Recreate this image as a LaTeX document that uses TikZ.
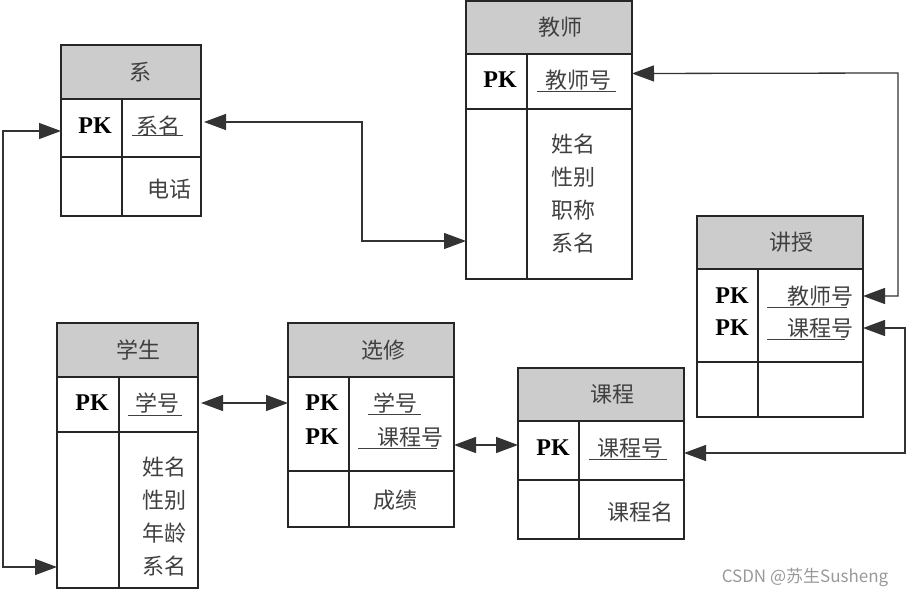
\documentclass[tikz,border=0pt]{standalone}
\usepackage{fontspec}
\setmainfont{Liberation Serif}
\newfontfamily\cjk{Noto Sans CJK SC}
\usetikzlibrary{arrows.meta}
\newcommand\ertab[8]{%
  \node[rowbox, fill=hdrgray, minimum width={#4-#2}, minimum height={#6-#5}] (#1-h) at (#2,#5) {};
  \node[rowbox, minimum width={#4-#2}, minimum height={#7-#6}] (#1-k) at (#2,#6) {};
  \node[rowbox, minimum width={#4-#2}, minimum height={#8-#7}] (#1-a) at (#2,#7) {};
  \draw[border] (#3,#6) -- (#3,#8);
}
\definecolor{hdrgray}{HTML}{CCCCCC}
\tikzset{
  rowbox/.style={draw=black!85, line width=1.6pt, inner sep=0pt, outer sep=0pt, anchor=north west},
  border/.style={draw=black!85, line width=1.6pt},
  zh/.style={font=\cjk\fontsize{22}{33}\selectfont, text=black!75, inner sep=0pt, align=center},
  pk/.style={font=\fontsize{24}{30}\selectfont\bfseries, text=black, inner sep=0pt},
  ul/.style={draw=black!75, line width=1pt},
  conn/.style={draw=black!80, line width=1.3pt, <->, >={Triangle[length=22pt,width=16pt]}},
}
\begin{document}
\begin{tikzpicture}[x=1pt,y=-1pt]
\useasboundingbox (0,0) rectangle (911,597);
% tables: name, xl, xdiv, xr, ytop, yhdr, ykey, ybot
\ertab{xi}{61}{122}{201}{45}{99}{157}{216}
\ertab{js}{466}{527}{632}{1}{54}{109}{279}
\ertab{jsh}{697}{758}{863}{216}{269}{362}{417}
\ertab{xs}{57}{119}{198}{323}{377}{432}{588}
\ertab{xx}{288}{349}{454}{323}{377}{471}{527}
\ertab{kc}{518}{579}{684}{368}{421}{480}{539}
% 系
\node[zh] (t-xi) at (140,72) {系};
\node[pk] (p-xi) at (95,126) {PK};
\node[zh] (k-xi) at (158,126) {系名};
\draw[ul] (132,135) -- (183,135);
\node[zh] (a-xi) at (169,189) {电话};
% 教师
\node[zh] (t-js) at (560,27) {教师};
\node[pk] (p-js) at (500,80) {PK};
\node[zh] (k-js) at (578,80) {教师号};
\draw[ul] (537,91) -- (616,91);
\node[zh] (a-js) at (573,194) {姓名\\性别\\职称\\系名};
% 讲授
\node[zh] (t-jsh) at (791,242) {讲授};
\node[pk] (p1-jsh) at (732,296) {PK};
\node[pk] (p2-jsh) at (732,328) {PK};
\node[zh] (k1-jsh) at (820,296) {教师号};
\draw[ul] (767,307) -- (847,307);
\node[zh] (k2-jsh) at (820,328) {课程号};
\draw[ul] (767,339) -- (845,339);
% 学生
\node[zh] (t-xs) at (138,350) {学生};
\node[pk] (p-xs) at (92,403) {PK};
\node[zh] (k-xs) at (157,403) {学号};
\draw[ul] (128,415) -- (182,415);
\node[zh] (a-xs) at (164,517) {姓名\\性别\\年龄\\系名};
% 选修
\node[zh] (t-xx) at (383,350) {选修};
\node[pk] (p1-xx) at (322,403) {PK};
\node[pk] (p2-xx) at (322,437) {PK};
\node[zh] (k1-xx) at (395,403) {学号};
\draw[ul] (368,414) -- (421,414);
\node[zh] (k2-xx) at (410,437) {课程号};
\draw[ul] (358,448) -- (437,448);
\node[zh] (a-xx) at (395,500) {成绩};
% 课程
\node[zh] (t-kc) at (612,394) {课程};
\node[pk] (p-kc) at (553,448) {PK};
\node[zh] (k-kc) at (630,448) {课程号};
\draw[ul] (589,459) -- (667,459);
\node[zh] (a-kc) at (640,512) {课程名};
% connector bend points
\coordinate (b1) at (362,122);
\coordinate (b2) at (362,241);
\coordinate (b3) at (3,131);
\coordinate (b4) at (3,567);
\coordinate (b5) at (898,73);
\coordinate (b6) at (898,296);
\coordinate (b7) at (905,328);
\coordinate (b8) at (905,453);
\coordinate (r403) at (0,403);
\coordinate (r445) at (0,445);
% connectors
\draw[conn, shorten <=3pt] ([yshift=6pt]xi-k.east) -- (b1) -- (b2) -- (js-a.west |- b2);
\draw[conn] ([yshift=-3pt]xi-k.west) -- (b3) -- (b4) -- (xs-a.west |- b4);
\draw[conn] ([yshift=8pt]js-k.east) -- (b5) -- (b6) -- (jsh-k.east |- b6);
\draw[conn] (jsh-k.east |- b7) -- (b7) -- (b8) -- (kc-k.east |- b8);
\draw[conn, shorten <=3pt] (xs-k.east |- r403) -- (xx-k.west |- r403);
\draw[conn] (xx-k.east |- r445) -- (kc-k.west |- r445);
% watermark
\node[font=\cjk\fontsize{17}{20}\selectfont, text=black!40, inner sep=0pt] (wm) at (805,577) {CSDN @苏生Susheng};
\end{tikzpicture}
\end{document}
